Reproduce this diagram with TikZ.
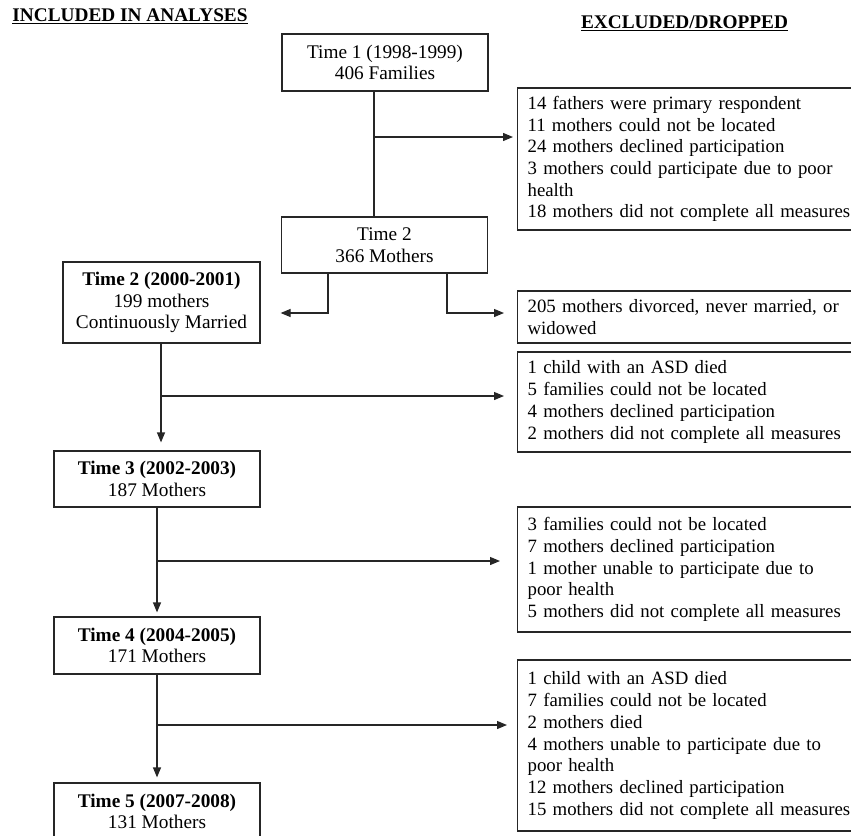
\documentclass[tikz,border=0pt]{standalone}
\usepackage{fontspec}
\setmainfont{Liberation Serif}
\usetikzlibrary{arrows.meta,positioning,calc}
\tikzset{
  diagarr/.style={-{Triangle[length=10pt,width=8pt]}, line width=1.2pt, draw=black!85},
  diagline/.style={line width=1.2pt, draw=black!85},
  diagnode/.style={draw=black!85, line width=1.2pt, align=center, inner sep=4pt},
}

\begin{document}
\begin{tikzpicture}[
  x=10pt, y=10pt,
  font=\fontsize{19.3}{21.7}\selectfont,
  stage/.style={diagnode, minimum width=206pt, minimum height=57pt},
  drop/.style={diagnode, anchor=west, align=left, text width=340pt, inner xsep=10pt,
    font=\fontsize{18.8}{21.7}\selectfont},
]
  \useasboundingbox (0,0) rectangle (85.1,-83.5);

  \node (inc) at (13.0,-1.6) {\textbf{\underline{INCLUDED IN ANALYSES}}};
  \node (exc) at (68.45,-2.3) {\textbf{\underline{EXCLUDED/DROPPED}}};

  % included column
  \node[stage] (t1) at (38.5,-6.25) {Time 1 (1998-1999)\\406 Families};
  \node[stage, minimum height=56pt] (t2m) at (38.45,-24.5) {Time 2\\366 Mothers};
  \node[stage, minimum width=197pt, minimum height=81pt] (t2) at (16.15,-30.25) {\textbf{Time 2 (2000-2001)}\\199 mothers\\Continuously Married};
  \node[stage, minimum height=56pt] (t3) at (15.7,-47.9) {\textbf{Time 3 (2002-2003)}\\187 Mothers};
  \node[stage] (t4) at (15.7,-64.55) {\textbf{Time 4 (2004-2005)}\\171 Mothers};
  \node[stage] (t5) at (15.7,-81.15) {\textbf{Time 5 (2007-2008)}\\131 Mothers};

  % excluded column
  \node[drop, minimum height=142pt] (d1) at (51.7,-15.9) {14 fathers were primary respondent\\11 mothers could not be located\\24 mothers declined participation\\3 mothers could participate due to poor\\health\\18 mothers did not complete all measures};
  \node[drop, minimum height=52pt] (d2) at (51.7,-31.7) {205 mothers divorced, never married, or\\widowed};
  \node[drop, minimum height=100pt] (d3) at (51.7,-40.2) {1 child with an ASD died\\5 families could not be located\\4 mothers declined participation\\2 mothers did not complete all measures};
  \node[drop, minimum height=125pt] (d4) at (51.7,-56.95) {3 families could not be located\\7 mothers declined participation\\1 mother unable to participate due to\\poor health\\5 mothers did not complete all measures};
  \node[drop, minimum height=171pt] (d5) at (51.7,-74.55) {1 child with an ASD died\\7 families could not be located\\2 mothers died\\4 mothers unable to participate due to\\poor health\\12 mothers declined participation\\15 mothers did not complete all measures};

  \coordinate (j1) at (37.4,-13.7);
  \coordinate (bl) at (32.8,-31.3);
  \coordinate (br) at (44.7,-31.3);
  \coordinate (j2) at (16.1,-39.6);
  \coordinate (j3) at (15.7,-56.1);
  \coordinate (j4) at (15.7,-72.5);

  \draw[diagline] (t1.south -| j1) -- (t2m.north -| j1);
  \draw[diagarr, shorten >=4pt] (j1) -- (j1 -| d1.west);
  \draw[diagarr, shorten >=20pt] (t2m.south -| bl) -- (bl) -- (bl -| t2.east);
  \draw[diagarr, shorten >=13pt] (t2m.south -| br) -- (br) -- (br -| d2.west);
  \draw[diagarr, shorten >=8pt] (t2.south -| j2) -- (t3.north -| j2);
  \draw[diagarr, shorten >=13pt] (j2) -- (j2 -| d3.west);
  \draw[diagarr, shorten >=4pt] (t3.south -| j3) -- (t4.north -| j3);
  \draw[diagarr, shorten >=17pt] (j3) -- (j3 -| d4.west);
  \draw[diagarr, shorten >=5pt] (t4.south -| j4) -- (t5.north -| j4);
  \draw[diagarr, shorten >=10pt] (j4) -- (j4 -| d5.west);
\end{tikzpicture}
\end{document}
